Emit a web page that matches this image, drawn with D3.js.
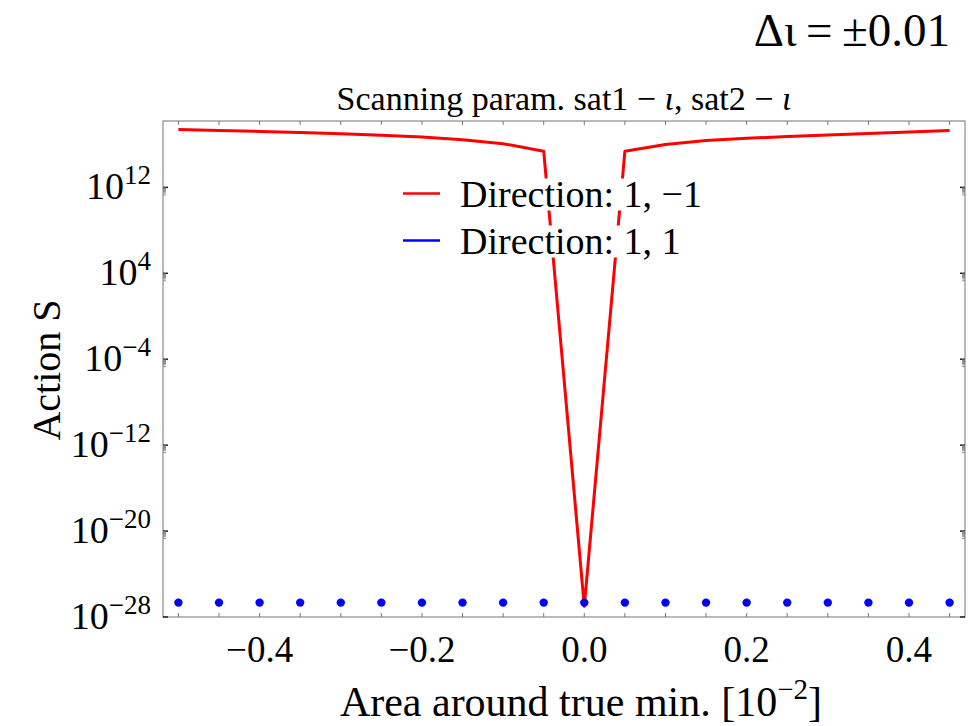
<!DOCTYPE html>
<html>
<head>
<meta charset="utf-8">
<script src="https://cdn.jsdelivr.net/npm/d3@7"></script>
<style>
  body { margin: 0; background: #fff; }
  svg { display: block; font-family: "Liberation Serif", "DejaVu Serif", serif; }
</style>
</head>
<body>
<svg id="chart" width="972" height="726"></svg>
<script>
// data
const xs = [-0.5, -0.45, -0.4, -0.35, -0.3, -0.25, -0.2, -0.15, -0.1, -0.05, 0,
  0.05, 0.1, 0.15, 0.2, 0.25, 0.3, 0.35, 0.4, 0.45]
// log10 of action S, direction 1,-1
const redLog = [17.39, 17.30, 17.21, 17.11, 16.99, 16.86, 16.69, 16.43, 16.07, 15.37, -27.0,
  15.37, 15.99, 16.36, 16.57, 16.73, 16.87, 17.01, 17.15, 17.29]
// direction 1,1 sits at the floor
const blueLog = [-26.66, -26.66, -26.66, -26.66, -26.66, -26.66, -26.66, -26.66, -26.66, -26.66,
  -26.66, -26.66, -26.66, -26.66, -26.66, -26.66, -26.66, -26.66, -26.66, -26.66]
const xTicks = [-0.4, -0.2, 0, 0.2, 0.4]
const yTickExp = [12, 4, -4, -12, -20, -28]
const legendNames = ["Direction: 1, \u22121", "Direction: 1, 1"]
const colors = ["#ff0000", "#0000ff"]

const svg = d3.select("#chart")
const pLeft = 163, pRight = 965, pTop = 121, pBottom = 617

const x = d3.scaleLinear().domain([-0.519, 0.469]).range([pLeft, pRight])
const y = d3.scaleLog().domain([1e-28, Math.pow(10, 18.18)]).range([pBottom, pTop])

// frame
svg.append("rect")
  .attr("x", pLeft).attr("y", pTop)
  .attr("width", pRight - pLeft).attr("height", pBottom - pTop)
  .attr("fill", "none").attr("stroke", "#8c8c8c").attr("stroke-width", 1.2)

// x ticks every 0.05, top and bottom, inward
const allX = d3.range(-10, 10).map(i => i * 0.05)
allX.forEach(v => {
  svg.append("line").attr("x1", x(v)).attr("x2", x(v))
    .attr("y1", pBottom).attr("y2", pBottom - 4)
    .attr("stroke", "#777").attr("stroke-width", 1)
  svg.append("line").attr("x1", x(v)).attr("x2", x(v))
    .attr("y1", pTop).attr("y2", pTop + 4)
    .attr("stroke", "#777").attr("stroke-width", 1)
})

// y ticks with minor cluster below each major
yTickExp.forEach(e => {
  const v = Math.pow(10, e)
  ;[pLeft, pRight].forEach((px, side) => {
    const dir = side === 0 ? 1 : -1
    svg.append("line").attr("x1", px).attr("x2", px + dir * 5)
      .attr("y1", y(v)).attr("y2", y(v))
      .attr("stroke", "#222").attr("stroke-width", 1.5)
    d3.range(2, 10).forEach(m => {
      const mv = m * Math.pow(10, e - 1)
      if (y(mv) > pBottom) return
      svg.append("line").attr("x1", px).attr("x2", px + dir * 3)
        .attr("y1", y(mv)).attr("y2", y(mv))
        .attr("stroke", "#777").attr("stroke-width", 0.8)
    })
  })
})

// x tick labels
xTicks.forEach(v => {
  svg.append("text")
    .attr("x", x(v)).attr("y", 662)
    .attr("text-anchor", "middle")
    .attr("font-size", 37)
    .text(d3.format(".1f")(v).replace("-", "\u2212"))
})

// y tick labels 10^e
yTickExp.forEach(e => {
  const t = svg.append("text")
    .attr("x", 151).attr("y", y(Math.pow(10, e)) + 12)
    .attr("text-anchor", "end")
    .attr("font-size", 38)
  t.append("tspan").text("10")
  t.append("tspan").attr("dy", -15).attr("font-size", 27)
    .text(String(e).replace("-", "\u2212"))
})

// axis titles
svg.append("text")
  .attr("transform", "translate(60,370) rotate(-90)")
  .attr("text-anchor", "middle")
  .attr("font-size", 40)
  .text("Action S")

const xl = svg.append("text")
  .attr("x", 581).attr("y", 716)
  .attr("text-anchor", "middle")
  .attr("font-size", 42)
xl.append("tspan").text("Area around true min. [10")
xl.append("tspan").attr("dy", -17).attr("font-size", 29).text("\u22122")
xl.append("tspan").attr("dy", 17).text("]")

// plot title
const ttl = svg.append("text")
  .attr("x", 564).attr("y", 110)
  .attr("text-anchor", "middle")
  .attr("font-size", 34)
ttl.append("tspan").text("Scanning param. sat1 \u2212 ")
ttl.append("tspan").attr("font-style", "italic").text("\u03b9")
ttl.append("tspan").text(", sat2 \u2212 ")
ttl.append("tspan").attr("font-style", "italic").text("\u03b9")

// top right annotation
svg.append("text")
  .attr("x", 950).attr("y", 46)
  .attr("text-anchor", "end")
  .attr("font-size", 47)
  .text("\u0394\u03b9\u2009=\u2009\u00b10.01")

// cut-off panel letter at the corner
svg.append("text")
  .attr("x", -14).attr("y", 16)
  .attr("font-size", 22)
  .text("b")

// series
const line = d3.line()
  .x((d, i) => x(xs[i]))
  .y(d => y(Math.pow(10, d)))

svg.append("path")
  .datum(redLog)
  .attr("d", line)
  .attr("fill", "none")
  .attr("stroke", colors[0])
  .attr("stroke-width", 3)
  .attr("stroke-linejoin", "round")

svg.selectAll(".dot")
  .data(blueLog)
  .join("circle")
  .attr("class", "dot")
  .attr("cx", (d, i) => x(xs[i]))
  .attr("cy", d => y(Math.pow(10, d)))
  .attr("r", 4.2)
  .attr("fill", colors[1])

// legend, text boxes blank out the line behind them
const legY = [193.5, 240.5]
legendNames.forEach((name, i) => {
  const g = svg.append("g")
  const txt = g.append("text")
    .attr("x", 460).attr("y", legY[i] + 13)
    .attr("font-size", 38)
    .text(name)
  const bb = txt.node().getBBox()
  g.insert("rect", "text")
    .attr("x", bb.x - 2).attr("y", legY[i] - 15)
    .attr("width", bb.width + 4).attr("height", 32)
    .attr("fill", "#fff")
  g.append("line")
    .attr("x1", 403).attr("x2", 440)
    .attr("y1", legY[i]).attr("y2", legY[i])
    .attr("stroke", colors[i]).attr("stroke-width", 2.5)
})
</script>
</body>
</html>
